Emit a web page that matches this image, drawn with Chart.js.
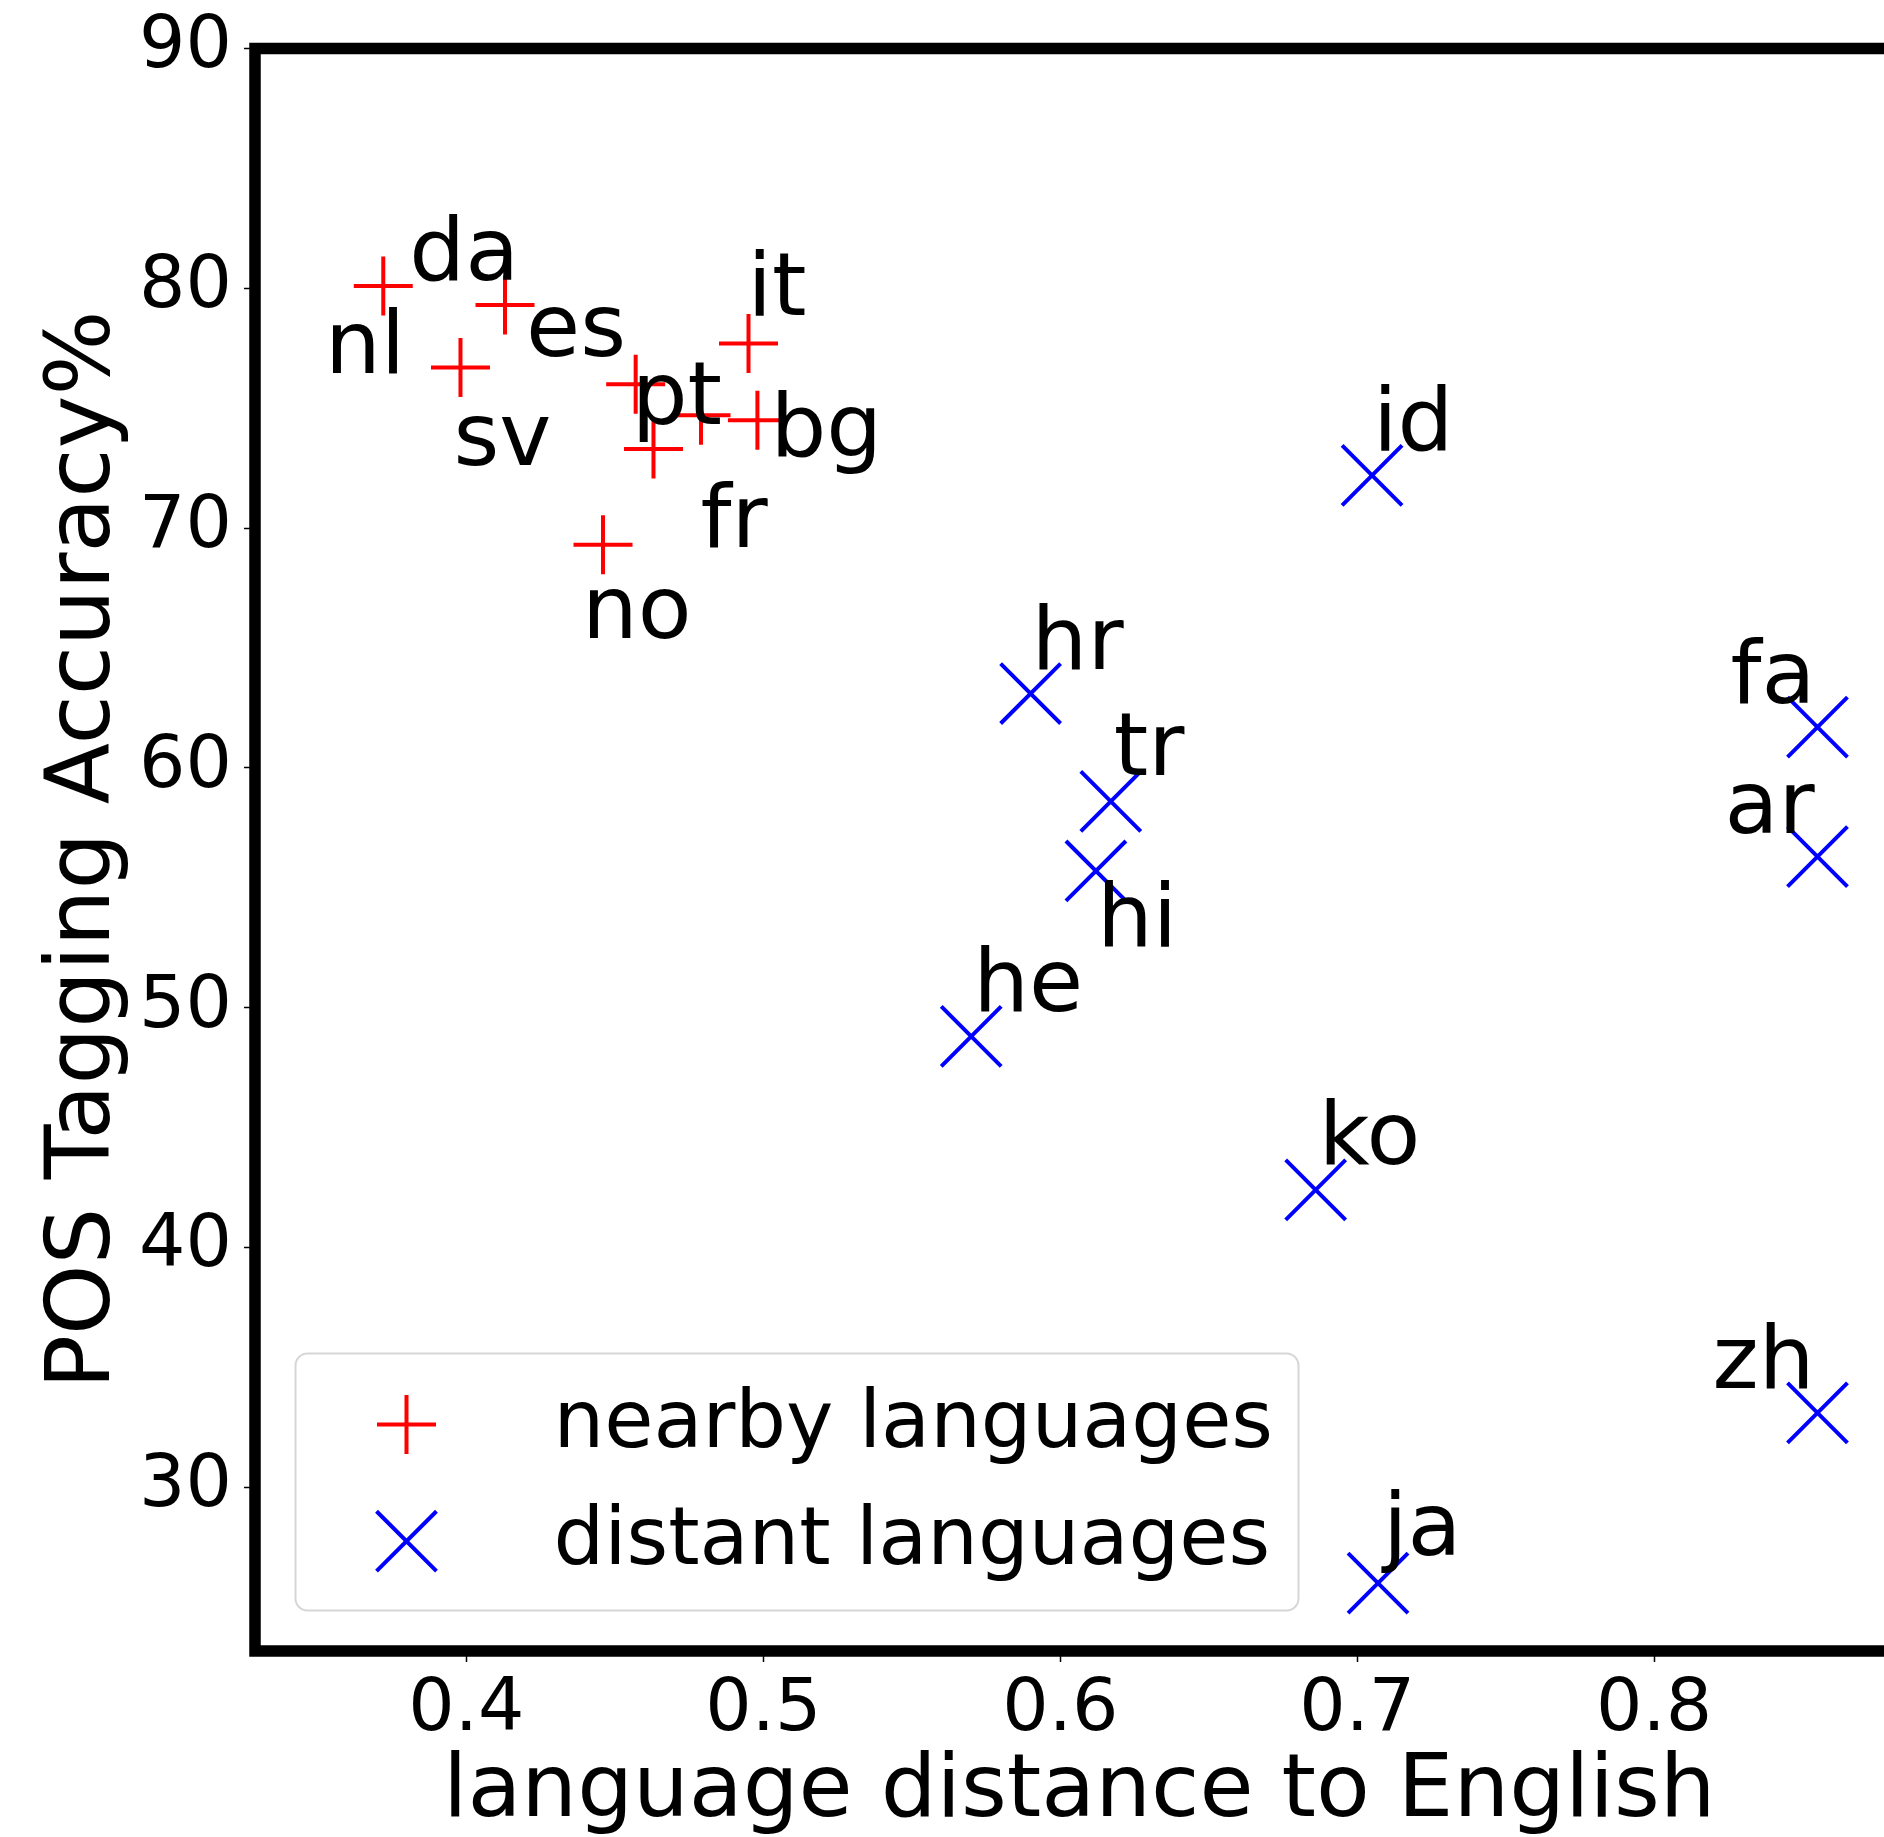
<!DOCTYPE html>
<html>
<head>
<meta charset="utf-8">
<script src="https://cdn.jsdelivr.net/npm/chart.js"></script>
<style>
html,body{margin:0;padding:0;background:#fff;overflow:hidden;}
#chartdiv{width:1950px;height:1837px;}
</style>
</head>
<body>
<div id="chartdiv"><canvas id="myChart" width="1950" height="1837"></canvas></div>
<script>
// nearby languages (red +)
var nearbyLangs=['da','es','sv','pt','it','fr','nl','bg','no'];
var nearbyDist=[0.372,0.413,0.398,0.457,0.495,0.463,0.479,0.498,0.446];
var nearbyAcc=[80.1,79.3,76.7,76.0,77.7,73.3,74.7,74.5,69.3];

// distant languages (blue x)
var distantLangs=['id','hr','tr','hi','he','ko','ja','fa','ar','zh'];
var distantDist=[0.705,0.590,0.617,0.612,0.570,0.686,0.707,0.855,0.855,0.855];
var distantAcc=[72.2,63.1,58.6,55.7,48.8,42.4,26.0,61.7,56.3,33.1];

var xTicks=[0.4,0.5,0.6,0.7,0.8];
var yTicks=[30,40,50,60,70,80,90];

// where each name sits relative to its marker (px, left/baseline of text)
var nearbyOffsets=[[26,-6],[21,51],[-7,98],[-4,40],[-1,-28],[47,98],[-376,-42],[13,36],[-21,93]];
var distantOffsets=[[1,-25],[1,-25],[3,-26],[1,75],[2,-25],[3,-26],[5,-28],[-87,-24],[-93,-24],[-105,-25]];

var FONT='DejaVu Sans';

function toPoints(xs,ys){
	var pts=[];
	for(var i=0;i<xs.length;i++){
		pts.push({x:xs[i],y:ys[i]});
	}
	return pts;
}

function drawMarker(c,style,x,y,r){
	c.beginPath();
	if(style=='cross'){
		c.moveTo(x-r,y);c.lineTo(x+r,y);
		c.moveTo(x,y-r);c.lineTo(x,y+r);
	}else{
		var d=r*Math.SQRT1_2;
		c.moveTo(x-d,y-d);c.lineTo(x+d,y+d);
		c.moveTo(x-d,y+d);c.lineTo(x+d,y-d);
	}
	c.stroke();
}

var framePlugin={
	id:'frameAndLabels',
	afterDatasetsDraw:function(chart){
		var c=chart.ctx;
		var ca=chart.chartArea;
		c.save();
		// axes box
		c.lineWidth=11.5;
		c.strokeStyle='#000';
		c.strokeRect(ca.left,ca.top,ca.right-ca.left,ca.bottom-ca.top);
		// language names
		c.fillStyle='#000';
		c.font='88px "'+FONT+'"';
		c.textAlign='left';
		c.textBaseline='alphabetic';
		chart.data.datasets.forEach(function(ds,di){
			var meta=chart.getDatasetMeta(di);
			for(var i=0;i<meta.data.length;i++){
				var p=meta.data[i];
				c.fillText(ds.langs[i],p.x+ds.offsets[i][0],p.y+ds.offsets[i][1]);
			}
		});
		c.restore();
	},
	afterDraw:function(chart){
		// legend box in the lower left corner
		var c=chart.ctx;
		var ca=chart.chartArea;
		var lx=ca.left+40.5, ly=ca.bottom-297.5, lw=1003, lh=257, rad=12;
		c.save();
		c.beginPath();
		c.moveTo(lx+rad,ly);
		c.arcTo(lx+lw,ly,lx+lw,ly+lh,rad);
		c.arcTo(lx+lw,ly+lh,lx,ly+lh,rad);
		c.arcTo(lx,ly+lh,lx,ly,rad);
		c.arcTo(lx,ly,lx+lw,ly,rad);
		c.closePath();
		c.fillStyle='rgba(255,255,255,0.8)';
		c.fill();
		c.lineWidth=2;
		c.strokeStyle='#d6d6d6';
		c.stroke();
		c.font='80px "'+FONT+'"';
		c.textAlign='left';
		c.textBaseline='alphabetic';
		chart.data.datasets.forEach(function(ds,di){
			var my=ly+71+di*116.7;
			c.strokeStyle=ds.pointBorderColor;
			c.lineWidth=ds.pointBorderWidth;
			drawMarker(c,ds.pointStyle,lx+111,my,ds.pointStyle=='cross'?29.5:42.4);
			c.fillStyle='#000';
			c.fillText(ds.label,lx+258,my+22.5);
		});
		c.restore();
	}
};

var ctx=document.getElementById('myChart').getContext('2d');
var myChart=new Chart(ctx,{
	type:'scatter',
	data:{
		datasets:[{
			label:'nearby languages',
			data:toPoints(nearbyDist,nearbyAcc),
			langs:nearbyLangs,
			offsets:nearbyOffsets,
			pointStyle:'cross',
			pointRadius:29.5,
			pointHoverRadius:29.5,
			pointBorderWidth:4,
			pointBorderColor:'#ff0000',
			pointBackgroundColor:'#ff0000'
		},{
			label:'distant languages',
			data:toPoints(distantDist,distantAcc),
			langs:distantLangs,
			offsets:distantOffsets,
			pointStyle:'crossRot',
			pointRadius:42.4,
			pointHoverRadius:42.4,
			pointBorderWidth:4,
			pointBorderColor:'#0000ff',
			pointBackgroundColor:'#0000ff'
		}]
	},
	options:{
		responsive:false,
		animation:false,
		// right edge of the axes lies just past the visible page, as in the source figure
		layout:{padding:{left:0,top:47,right:46,bottom:0}},
		plugins:{
			legend:{display:false},
			tooltip:{enabled:false}
		},
		scales:{
			x:{
				type:'linear',
				min:0.3288,
				max:0.884,
				afterFit:function(s){s.height=186;},
				afterBuildTicks:function(s){s.ticks=xTicks.map(function(v){return {value:v};});},
				border:{display:false},
				grid:{drawOnChartArea:false,tickLength:11,tickWidth:1.5,tickColor:'#000'},
				ticks:{
					color:'#000',
					font:{family:FONT,size:73,lineHeight:1},
					padding:13,
					maxRotation:0,
					autoSkip:false,
					callback:function(v){return v.toFixed(1);}
				},
				title:{
					display:true,
					text:'language distance to English',
					color:'#000',
					font:{family:FONT,size:88,lineHeight:1},
					padding:{top:0,bottom:0}
				}
			},
			y:{
				min:23.17,
				max:90,
				afterFit:function(s){s.width=255;},
				afterBuildTicks:function(s){s.ticks=yTicks.map(function(v){return {value:v};});},
				border:{display:false},
				grid:{drawOnChartArea:false,tickLength:11,tickWidth:1.5,tickColor:'#000'},
				ticks:{
					color:'#000',
					font:{family:FONT,size:73,lineHeight:1},
					padding:12,
					autoSkip:false
				},
				title:{
					display:true,
					text:'POS Tagging Accuracy%',
					color:'#000',
					font:{family:FONT,size:89.5,lineHeight:1},
					padding:{top:41,bottom:0}
				}
			}
		}
	},
	plugins:[framePlugin]
});
</script>
</body>
</html>
